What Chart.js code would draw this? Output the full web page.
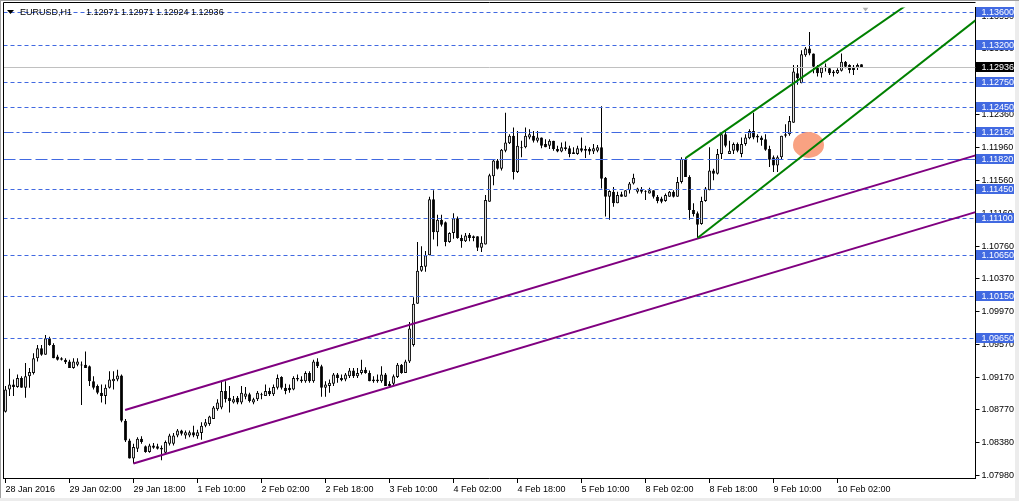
<!DOCTYPE html>
<html>
<head>
<meta charset="utf-8">
<script src="https://cdn.jsdelivr.net/npm/chart.js@4.4.1/dist/chart.umd.min.js"></script>
<style>
  html, body { margin: 0; padding: 0; background: #fff; }
</style>
</head>
<body>
<canvas id="grafico" width="1019" height="501"></canvas>
<script>
// EURUSD H1 - una vela por hora, desde 28 Jan 2016 10:00 hasta 10 Feb 08:00
const opens = [
  1.0875,1.0902,1.0908,1.0905,1.0916,1.0904,1.0918,1.0922,1.0940,1.0952,1.0944,1.0964,1.0956,1.0942,1.0940,1.0938,
  1.0936,1.0928,1.0932,1.0932,1.0932,1.0930,1.0912,1.0906,1.0898,1.0894,1.0904,1.0912,1.0914,1.0919,1.0864,1.0840,
  1.0818,1.0830,1.0842,1.0833,1.0826,1.0834,1.0833,1.0831,1.0825,1.0836,1.0836,1.0846,1.0852,1.0846,1.0846,1.0850,
  1.0845,1.0849,1.0858,1.0860,1.0866,1.0878,1.0880,1.0900,1.0892,1.0886,1.0892,1.0886,1.0893,1.0896,1.0886,1.0890,
  1.0896,1.0894,1.0900,1.0896,1.0904,1.0917,1.0904,1.0904,1.0902,1.0916,1.0914,1.0912,1.0922,1.0912,1.0936,1.0930,
  1.0904,1.0906,1.0909,1.0920,1.0916,1.0914,1.0918,1.0925,1.0918,1.0922,1.0926,1.0922,1.0912,1.0914,1.0912,1.0920,
  1.0909,1.0909,1.0917,1.0932,1.0922,1.0936,1.0956,1.1006,1.1046,1.1051,1.1065,1.1133,1.1093,1.1108,1.1105,1.1081,
  1.1092,1.1110,1.1086,1.1082,1.1090,1.1088,1.1088,1.1074,1.1078,1.1130,1.1161,1.1180,1.1170,1.1192,1.1201,1.1210,
  1.1166,1.1196,1.1196,1.1208,1.1210,1.1204,1.1208,1.1200,1.1198,1.1204,1.1194,1.1191,1.1196,1.1195,1.1190,1.1188,
  1.1195,1.1194,1.1194,1.1191,1.1192,1.1196,1.1159,1.1136,1.1142,1.1128,1.1139,1.1136,1.1144,1.1152,1.1142,1.1145,
  1.1143,1.1140,1.1144,1.1136,1.1134,1.1131,1.1136,1.1142,1.1136,1.1154,1.1182,1.1160,1.1120,1.1116,1.1103,1.1131,
  1.1144,1.1168,1.1164,1.1188,1.1212,1.1188,1.1192,1.1200,1.1188,1.1200,1.1207,1.1216,1.1208,1.1208,1.1206,1.1194,
  1.1184,1.1174,1.1184,1.1210,1.1212,1.1226,1.1286,1.1274,1.1308,1.1316,1.1310,1.1294,1.1286,1.1294,1.1292,1.1288,
  1.1286,1.1289,1.1300,1.1296,1.1294,1.1293,1.12971
];
const highs = [
  1.0906,1.0927,1.0914,1.0920,1.0918,1.0934,1.0928,1.0946,1.0956,1.0956,1.0968,1.0966,1.0958,1.0944,1.0941,1.0940,
  1.0938,1.0940,1.0940,1.0936,1.0948,1.0931,1.0918,1.0908,1.0908,1.0908,1.0924,1.0924,1.0926,1.0920,1.0866,1.0842,
  1.0836,1.0844,1.0845,1.0834,1.0836,1.0837,1.0836,1.0834,1.0840,1.0848,1.0849,1.0854,1.0853,1.0852,1.0852,1.0858,
  1.0853,1.0862,1.0866,1.0870,1.0882,1.0890,1.0912,1.0912,1.0906,1.0894,1.0894,1.0906,1.0905,1.0898,1.0892,1.0900,
  1.0898,1.0908,1.0904,1.0908,1.0920,1.0918,1.0909,1.0908,1.0918,1.0920,1.0918,1.0924,1.0924,1.0938,1.0940,1.0932,
  1.0912,1.0914,1.0922,1.0922,1.0920,1.0922,1.0928,1.0928,1.0928,1.0938,1.0929,1.0925,1.0918,1.0920,1.0930,1.0922,
  1.0912,1.0920,1.0934,1.0933,1.0938,1.0984,1.1014,1.1081,1.1076,1.1070,1.1136,1.1144,1.1114,1.1114,1.1106,1.1093,
  1.1116,1.1112,1.1090,1.1092,1.1092,1.1089,1.1088,1.1088,1.1138,1.1164,1.1182,1.1182,1.1194,1.1238,1.1212,1.1220,
  1.1216,1.1204,1.1220,1.1218,1.1216,1.1216,1.1208,1.1206,1.1206,1.1204,1.1198,1.1202,1.1203,1.1198,1.1196,1.1198,
  1.1208,1.1198,1.1196,1.1200,1.1199,1.1246,1.1160,1.1144,1.1148,1.1142,1.1142,1.1144,1.1154,1.1164,1.1147,1.1148,
  1.1144,1.1147,1.1144,1.1138,1.1136,1.1140,1.1143,1.1144,1.1160,1.1184,1.1183,1.1162,1.1128,1.1118,1.1136,1.1148,
  1.1196,1.1170,1.1194,1.1214,1.1216,1.1204,1.1202,1.1202,1.1208,1.1212,1.1218,1.1238,1.1212,1.1210,1.1212,1.1198,
  1.1186,1.1186,1.1210,1.1224,1.1234,1.1296,1.1296,1.1314,1.1318,1.1336,1.1310,1.1296,1.1294,1.1298,1.1293,1.1290,
  1.1292,1.1310,1.1301,1.1297,1.1296,1.1298,1.12971
];
const lows = [
  1.0874,1.0894,1.0894,1.0904,1.0904,1.0892,1.0904,1.0920,1.0936,1.0943,1.0944,1.0955,1.0940,1.0937,1.0937,1.0933,
  1.0928,1.0927,1.0930,1.0883,1.0928,1.0906,1.0902,1.0896,1.0886,1.0884,1.0903,1.0902,1.0912,1.0862,1.0838,1.0818,
  1.0812,1.0826,1.0836,1.0825,1.0825,1.0830,1.0829,1.0816,1.0824,1.0834,1.0834,1.0844,1.0846,1.0842,1.0844,1.0844,
  1.0842,1.0841,1.0856,1.0858,1.0866,1.0876,1.0878,1.0886,1.0874,1.0885,1.0884,1.0884,1.0890,1.0886,1.0884,1.0888,
  1.0890,1.0894,1.0894,1.0894,1.0902,1.0902,1.0896,1.0898,1.0901,1.0912,1.0910,1.0910,1.0910,1.0910,1.0928,1.0893,
  1.0893,1.0898,1.0906,1.0910,1.0912,1.0912,1.0916,1.0916,1.0916,1.0920,1.0921,1.0912,1.0910,1.0910,1.0910,1.0906,
  1.0904,1.0906,1.0916,1.0921,1.0922,1.0934,1.0954,1.1006,1.1045,1.1045,1.1065,1.1084,1.1076,1.1100,1.1076,1.1080,
  1.1085,1.1085,1.1074,1.1081,1.1082,1.1082,1.1070,1.1069,1.1078,1.1130,1.1150,1.1169,1.1168,1.1190,1.1200,1.1157,
  1.1165,1.1184,1.1195,1.1206,1.1202,1.1202,1.1195,1.1196,1.1194,1.1192,1.1190,1.1190,1.1192,1.1184,1.1188,1.1187,
  1.1190,1.1183,1.1187,1.1188,1.1190,1.1146,1.1112,1.1108,1.1124,1.1128,1.1136,1.1136,1.1140,1.1151,1.1140,1.1140,
  1.1132,1.1140,1.1134,1.1128,1.1128,1.1130,1.1136,1.1135,1.1136,1.1152,1.1160,1.1108,1.1112,1.1086,1.1102,1.1130,
  1.1144,1.1156,1.1163,1.1182,1.1196,1.1188,1.1188,1.1190,1.1184,1.1198,1.1206,1.1206,1.1202,1.1198,1.1192,1.1172,
  1.1166,1.1166,1.1182,1.1208,1.1210,1.1226,1.1272,1.1274,1.1306,1.1308,1.1286,1.1282,1.1281,1.1288,1.1284,1.1282,
  1.1285,1.1288,1.1292,1.1286,1.1284,1.1290,1.12924
];
const closes = [
  1.0902,1.0908,1.0905,1.0916,1.0904,1.0918,1.0923,1.0940,1.0952,1.0944,1.0964,1.0956,1.0940,1.0938,1.0938,1.0935,
  1.0928,1.0936,1.0936,1.0931,1.0928,1.0912,1.0904,1.0898,1.0894,1.0904,1.0914,1.0915,1.0919,1.0864,1.0840,1.0818,
  1.0832,1.0842,1.0838,1.0826,1.0834,1.0831,1.0830,1.0829,1.0838,1.0846,1.0846,1.0852,1.0848,1.0850,1.0850,1.0846,
  1.0850,1.0858,1.0862,1.0869,1.0880,1.0886,1.0900,1.0890,1.0888,1.0890,1.0886,1.0898,1.0897,1.0888,1.0890,1.0898,
  1.0895,1.0900,1.0896,1.0905,1.0916,1.0904,1.0900,1.0901,1.0916,1.0914,1.0912,1.0922,1.0912,1.0936,1.0930,1.0904,
  1.0908,1.0910,1.0920,1.0916,1.0913,1.0920,1.0925,1.0918,1.0922,1.0926,1.0922,1.0912,1.0914,1.0912,1.0920,1.0906,
  1.0906,1.0918,1.0932,1.0922,1.0936,1.0976,1.1006,1.1046,1.1052,1.1065,1.1133,1.1093,1.1108,1.1102,1.1081,1.1092,
  1.1110,1.1086,1.1082,1.1089,1.1086,1.1086,1.1074,1.1080,1.1132,1.1162,1.1180,1.1170,1.1193,1.1202,1.1210,1.1166,
  1.1198,1.1195,1.1210,1.1212,1.1204,1.1208,1.1198,1.1196,1.1204,1.1194,1.1191,1.1196,1.1194,1.1188,1.1188,1.1195,
  1.1192,1.1192,1.1191,1.1195,1.1196,1.1158,1.1136,1.1143,1.1128,1.1138,1.1136,1.1144,1.1152,1.1159,1.1146,1.1142,
  1.1142,1.1144,1.1136,1.1131,1.1130,1.1138,1.1142,1.1136,1.1154,1.1182,1.1160,1.1120,1.1115,1.1102,1.1131,1.1146,
  1.1168,1.1164,1.1188,1.1212,1.1198,1.1192,1.1200,1.1192,1.1200,1.1208,1.1216,1.1208,1.1210,1.1205,1.1193,1.1181,
  1.1174,1.1184,1.1210,1.1212,1.1228,1.1288,1.1280,1.1309,1.1316,1.1310,1.1294,1.1286,1.1293,1.1293,1.1286,1.1286,
  1.1290,1.1300,1.1294,1.1290,1.1290,1.1296,1.12936
];

// eje de tiempo (una etiqueta cada 16 velas) y espacio vacio a la derecha
const totalSlots = 243;
const tickBars = [0, 16, 32, 48, 64, 80, 96, 112, 128, 144, 160, 176, 192, 208];
const tickTexts = ['28 Jan 2016', '29 Jan 02:00', '29 Jan 18:00', '1 Feb 10:00', '2 Feb 02:00', '2 Feb 18:00',
  '3 Feb 10:00', '4 Feb 02:00', '4 Feb 18:00', '5 Feb 10:00', '8 Feb 02:00', '8 Feb 18:00', '9 Feb 10:00', '10 Feb 02:00'];
const yTicks = [1.0798, 1.0838, 1.0877, 1.0917, 1.0957, 1.0997, 1.1037, 1.1076, 1.1116, 1.1156, 1.1196, 1.1236, 1.1276, 1.1316, 1.1355];

// objetos dibujados sobre el grafico (barra, precio)
const dashLevels = [1.136, 1.132, 1.1275, 1.1245, 1.1145, 1.111, 1.1065, 1.1015, 1.0965];
const dashDotLevels = [1.1215];
const longDashLevels = [1.1182];
const purpleLines = [[29.9, 1.0877, 241.6, 1.1185], [32, 1.0812, 241.6, 1.1116]];
const greenLines = [[170, 1.1183, 216.1, 1.1338], [173, 1.1086, 215.6, 1.1248]];
const marca = [200.75, 1.1199];

const labels = new Array(totalSlots).fill('');
tickBars.forEach((b, k) => { labels[b] = tickTexts[k]; });

const AZUL = '#4169e1';
Chart.defaults.font.family = '"Liberation Sans", Arial, sans-serif';
Chart.defaults.font.size = 9;
Chart.defaults.color = '#000';

const fondo = {
  id: 'fondo',
  beforeDraw(chart) {
    const ctx = chart.ctx;
    ctx.save();
    ctx.fillStyle = '#fff';
    ctx.fillRect(0, 0, chart.width, chart.height);
    ctx.fillStyle = '#ececec';
    ctx.fillRect(1015, 0, 4, chart.height);
    ctx.fillRect(0, 498, chart.width, 3);
    ctx.fillStyle = '#a0a0a0';
    ctx.fillRect(0, 0, chart.width, 1);
    ctx.fillRect(0, 0, 1, 498);
    ctx.restore();
  }
};

const objetos = {
  id: 'objetos',
  afterDatasetsDraw(chart) {
    const ctx = chart.ctx;
    const a = chart.chartArea;
    const x = chart.scales.x, y = chart.scales.y;
    ctx.save();
    ctx.beginPath();
    ctx.rect(a.left, a.top, a.right - a.left, a.bottom - a.top);
    ctx.clip();

    function hline(v, color, dash) {
      const py = Math.round(y.getPixelForValue(v)) + 0.5;
      ctx.strokeStyle = color;
      ctx.lineWidth = 1;
      ctx.setLineDash(dash);
      ctx.beginPath();
      ctx.moveTo(a.left, py);
      ctx.lineTo(a.right, py);
      ctx.stroke();
    }
    hline(closes[closes.length - 1], '#c0c0c0', []);
    dashLevels.forEach(v => hline(v, AZUL, [4, 3]));
    dashDotLevels.forEach(v => hline(v, AZUL, [10, 3, 3, 3]));
    longDashLevels.forEach(v => hline(v, AZUL, [12, 4]));
    ctx.setLineDash([]);

    // zona marcada
    ctx.fillStyle = '#f9a282';
    ctx.beginPath();
    ctx.ellipse(x.getPixelForValue(marca[0]), y.getPixelForValue(marca[1]), 15.5, 13, 0, 0, Math.PI * 2);
    ctx.fill();

    function ray(p, color) {
      const x1 = x.getPixelForValue(p[0]), y1 = y.getPixelForValue(p[1]);
      const x2 = x.getPixelForValue(p[2]), y2 = y.getPixelForValue(p[3]);
      const k = (y2 - y1) / (x2 - x1);
      ctx.strokeStyle = color;
      ctx.lineWidth = 2;
      ctx.beginPath();
      ctx.moveTo(x1, y1);
      ctx.lineTo(a.right, y1 + k * (a.right - x1));
      ctx.stroke();
    }
    purpleLines.forEach(p => ray(p, '#800080'));
    greenLines.forEach(p => ray(p, '#008000'));

    // marca de desplazamiento
    const sx = x.getPixelForValue(closes.length);
    ctx.fillStyle = '#b0b0b0';
    ctx.beginPath();
    ctx.moveTo(sx - 3, a.top);
    ctx.lineTo(sx + 3, a.top);
    ctx.lineTo(sx, a.top + 4);
    ctx.closePath();
    ctx.fill();
    ctx.restore();
  },
  afterDraw(chart) {
    const ctx = chart.ctx;
    const a = chart.chartArea;
    const y = chart.scales.y;
    ctx.save();
    // marco
    ctx.strokeStyle = '#000';
    ctx.lineWidth = 1;
    ctx.beginPath();
    ctx.moveTo(3.5, a.bottom);
    ctx.lineTo(3.5, 2.5);
    ctx.lineTo(a.right, 2.5);
    ctx.stroke();

    // etiquetas de precio de las lineas
    ctx.font = '9px "Liberation Sans", Arial, sans-serif';
    ctx.textBaseline = 'middle';
    ctx.textAlign = 'left';
    function caja(v, bg) {
      const py = Math.round(y.getPixelForValue(v));
      ctx.fillStyle = bg;
      ctx.fillRect(y.left + 0.5, py - 5, 38, 10);
      ctx.fillStyle = '#fff';
      ctx.fillText(v.toFixed(5), y.left + 6, py + 0.5);
    }
    dashLevels.concat(dashDotLevels, longDashLevels).forEach(v => caja(v, AZUL));
    caja(closes[closes.length - 1], '#000');

    // titulo
    ctx.fillStyle = '#000';
    ctx.beginPath();
    ctx.moveTo(7, 10);
    ctx.lineTo(14, 10);
    ctx.lineTo(10.5, 14);
    ctx.closePath();
    ctx.fill();
    ctx.font = '9px "Liberation Sans", Arial, sans-serif';
    ctx.fillText('EURUSD,H1', 20, 13);
    const n = opens.length - 1;
    ctx.fillText([opens[n], highs[n], lows[n], closes[n]].map(v => v.toFixed(5)).join(' '), 86, 13);
    ctx.restore();
  }
};

var ctx = document.getElementById('grafico').getContext('2d');
const grafico = new Chart(ctx, {
  type: 'bar',
  data: {
    labels: labels,
    datasets: [
      {
        label: 'cuerpo',
        data: opens.map((o, i) => [o, closes[i]]),
        backgroundColor: opens.map((o, i) => closes[i] >= o ? '#ffffff' : '#000000'),
        borderColor: '#000',
        borderWidth: 1,
        borderSkipped: false,
        maxBarThickness: 3,
        minBarLength: 1,
        grouped: false
      },
      {
        label: 'mecha',
        data: lows.map((l, i) => [l, highs[i]]),
        backgroundColor: '#000',
        borderWidth: 0,
        maxBarThickness: 1,
        grouped: false
      }
    ]
  },
  options: {
    responsive: false,
    animation: false,
    devicePixelRatio: 1,
    layout: { padding: { left: 3.5, top: 3, right: 0, bottom: 0 } },
    plugins: { legend: { display: false }, tooltip: { enabled: false }, title: { display: false } },
    scales: {
      x: {
        type: 'category',
        offset: true,
        grid: { offset: false, drawOnChartArea: false, color: '#000', tickLength: 5 },
        border: { color: '#000' },
        ticks: { autoSkip: false, maxRotation: 0, align: 'start', padding: 1 },
        afterBuildTicks: s => { s.ticks = tickBars.map(b => ({ value: b })); },
        afterFit: s => { s.height = 23; }
      },
      y: {
        type: 'linear',
        position: 'right',
        min: 1.07944,
        max: 1.13660,
        grid: { drawOnChartArea: false, color: '#000', tickLength: 4 },
        border: { color: '#000' },
        ticks: { padding: 2, callback: v => v.toFixed(5) },
        afterBuildTicks: s => { s.ticks = yTicks.map(v => ({ value: v })); },
        afterFit: s => { s.width = 43.5; }
      }
    }
  },
  plugins: [fondo, objetos]
});
</script>
</body>
</html>
